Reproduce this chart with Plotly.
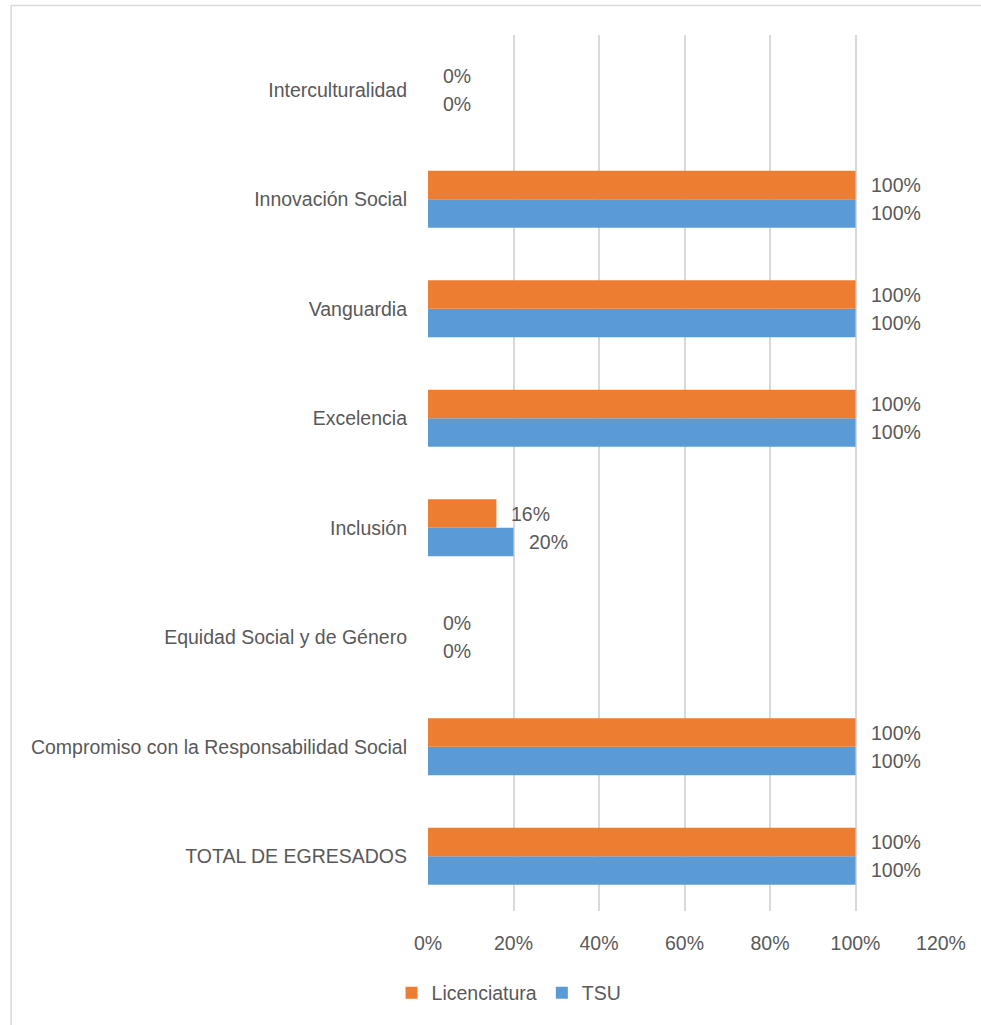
import plotly.graph_objects as go

categories = ["TOTAL DE EGRESADOS", "Compromiso con la Responsabilidad Social",
              "Equidad Social y de Género", "Inclusión", "Excelencia",
              "Vanguardia", "Innovación Social", "Interculturalidad"]
licenciatura = [1.00, 1.00, 0.00, 0.16, 1.00, 1.00, 1.00, 0.00]
tsu = [1.00, 1.00, 0.00, 0.20, 1.00, 1.00, 1.00, 0.00]
x_ticks = [0, 0.2, 0.4, 0.6, 0.8, 1.0, 1.2]
x_tick_labels = ["0%", "20%", "40%", "60%", "80%", "100%", "120%"]

FONT = "Liberation Sans, Arial, sans-serif"
FS = 19.5
TXT = "#595959"
ORANGE = "#ED7D31"
BLUE = "#5B9BD5"

fig = go.Figure()
fig.add_trace(go.Bar(y=categories, x=tsu, name="TSU", orientation="h",
                     marker=dict(color=BLUE, line=dict(width=0))))
fig.add_trace(go.Bar(y=categories, x=licenciatura, name="Licenciatura", orientation="h",
                     marker=dict(color=ORANGE, line=dict(width=0))))

annotations = []
for c, v in zip(categories, licenciatura):
    annotations.append(dict(x=v, y=c, xref="x", yref="y", text=f"{v:.0%}", showarrow=False,
                            xanchor="left", yanchor="middle", xshift=13, yshift=14,
                            font=dict(family=FONT, size=FS, color=TXT)))
for c, v in zip(categories, tsu):
    annotations.append(dict(x=v, y=c, xref="x", yref="y", text=f"{v:.0%}", showarrow=False,
                            xanchor="left", yanchor="middle", xshift=13, yshift=-14,
                            font=dict(family=FONT, size=FS, color=TXT)))

fig.update_layout(
    width=981, height=1025,
    margin=dict(l=428, r=40, t=35, b=114),
    paper_bgcolor="white", plot_bgcolor="white",
    font=dict(family=FONT, size=FS, color=TXT),
    barmode="group", bargap=0.48, bargroupgap=0,
    showlegend=True,
    legend=dict(orientation="h", traceorder="reversed", x=0.158, xanchor="center",
                y=-0.0936, yanchor="middle", font=dict(family=FONT, size=FS, color=TXT),
                itemsizing="constant"),
    annotations=annotations,
    shapes=[
        dict(type="line", xref="paper", yref="paper", x0=-0.8126, x1=1.2, y0=1.0337, y1=1.0337,
             line=dict(color="#D9D9D9", width=1.5)),
        dict(type="line", xref="paper", yref="paper", x0=-0.8126, x1=-0.8126, y0=-0.2, y1=1.0337,
             line=dict(color="#D9D9D9", width=1.5)),
    ],
)
fig.update_xaxes(range=[0, 1.2], tickvals=x_ticks, ticktext=x_tick_labels,
                 showgrid=True, gridcolor="#D9D9D9", gridwidth=1.5,
                 zeroline=False, showline=False, ticks="", ticklabelstandoff=18,
                 tickfont=dict(family=FONT, size=FS, color=TXT), fixedrange=True)
fig.update_yaxes(categoryorder="array", categoryarray=categories,
                 showgrid=False, zeroline=False, showline=False, ticks="",
                 ticklabelstandoff=20,
                 tickfont=dict(family=FONT, size=FS, color=TXT))

fig.write_html("out.html", config={"displayModeBar": False},
               post_script="document.body.style.margin='0';document.body.style.overflow='hidden';")
